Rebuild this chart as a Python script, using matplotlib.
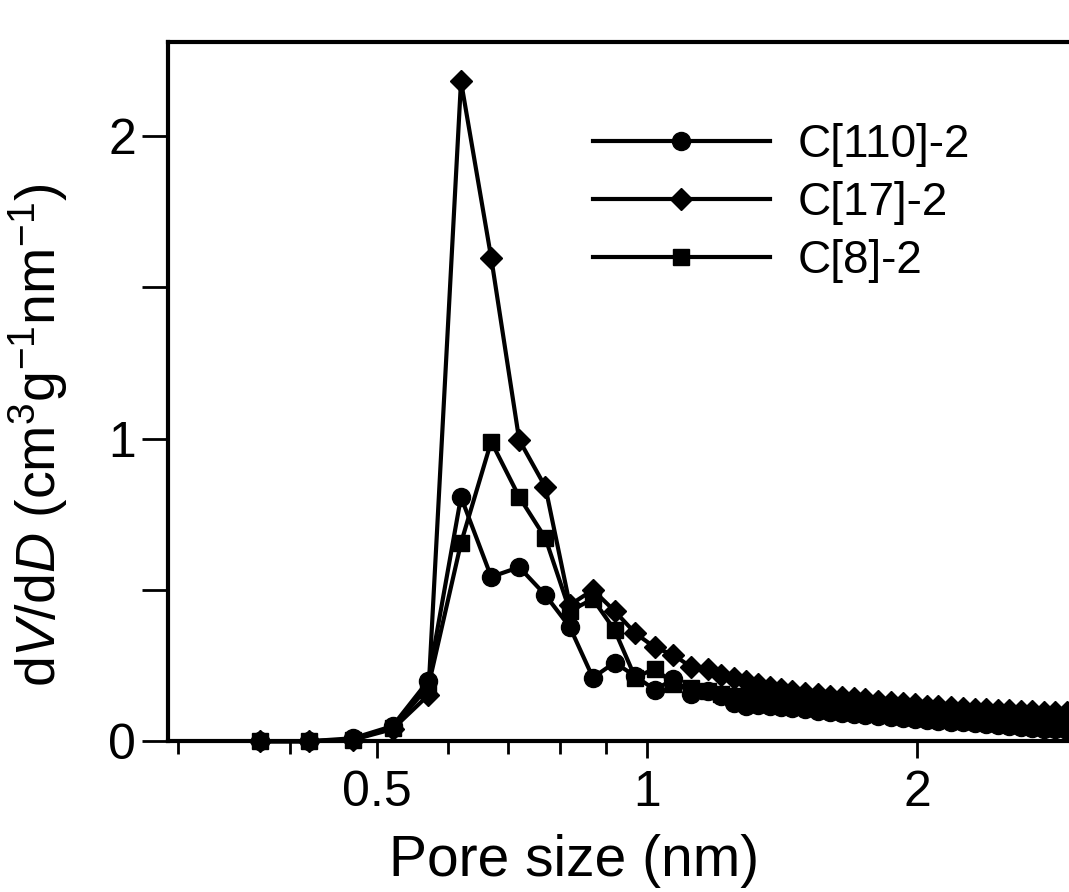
import matplotlib
matplotlib.use("Agg")
import matplotlib.pyplot as plt
from matplotlib.ticker import FixedLocator, FixedFormatter, NullFormatter

plt.rcParams['font.family'] = ['Liberation Sans', 'DejaVu Sans']
plt.rcParams['mathtext.fontset'] = 'custom'
plt.rcParams['mathtext.rm'] = 'Liberation Sans'
plt.rcParams['mathtext.it'] = 'Liberation Sans:italic'

# pore size grid (nm)
pore = [0.37, 0.42, 0.47, 0.52, 0.57, 0.62, 0.67, 0.72, 0.77, 0.82,
        0.87, 0.92, 0.97, 1.02, 1.07, 1.12, 1.17, 1.21, 1.25, 1.29,
        1.33, 1.37, 1.41, 1.45, 1.50, 1.55, 1.60, 1.65, 1.70, 1.75,
        1.81, 1.87, 1.93, 1.99, 2.05, 2.11, 2.18, 2.25, 2.32, 2.39,
        2.46, 2.53, 2.61, 2.69, 2.77, 2.85, 2.94, 3.03]

c110 = [0.0, 0.0, 0.01, 0.05, 0.20, 0.807, 0.543, 0.575, 0.483, 0.377,
        0.21, 0.26, 0.215, 0.17, 0.205, 0.155, 0.165, 0.15, 0.125, 0.118,
        0.12, 0.115, 0.112, 0.11, 0.105, 0.10, 0.097, 0.094, 0.09, 0.087,
        0.083, 0.08, 0.077, 0.074, 0.071, 0.068, 0.065, 0.062, 0.059, 0.056,
        0.053, 0.05, 0.048, 0.045, 0.042, 0.04, 0.037, 0.035]

c17 = [0.0, 0.0, 0.005, 0.04, 0.152, 2.18, 1.597, 0.995, 0.84, 0.45,
       0.50, 0.43, 0.357, 0.31, 0.285, 0.245, 0.24, 0.22, 0.21, 0.20,
       0.19, 0.18, 0.172, 0.165, 0.16, 0.155, 0.15, 0.146, 0.142, 0.138,
       0.134, 0.13, 0.126, 0.122, 0.118, 0.115, 0.112, 0.11, 0.108, 0.106,
       0.104, 0.102, 0.10, 0.099, 0.098, 0.097, 0.096, 0.095]

c8 = [0.0, 0.0, 0.005, 0.045, 0.18, 0.655, 0.99, 0.807, 0.671, 0.43,
      0.47, 0.367, 0.21, 0.24, 0.19, 0.175, 0.165, 0.155, 0.15, 0.145,
      0.14, 0.136, 0.132, 0.128, 0.124, 0.12, 0.117, 0.114, 0.111, 0.108,
      0.105, 0.102, 0.099, 0.096, 0.093, 0.09, 0.087, 0.084, 0.081, 0.078,
      0.075, 0.073, 0.071, 0.069, 0.067, 0.065, 0.063, 0.061]

labels = ['C[110]-2', 'C[17]-2', 'C[8]-2']

fig = plt.figure(figsize=(10.69, 8.92), dpi=100)
ax = fig.add_axes([0.157, 0.169, 0.8485, 0.784])

ax.plot(pore, c110, '-o', color='k', lw=3, ms=13, label=labels[0], clip_on=False)
ax.plot(pore, c17, '-D', color='k', lw=3, ms=11, label=labels[1], clip_on=False)
ax.plot(pore, c8, '-s', color='k', lw=3, ms=11.5, label=labels[2], clip_on=False)

ax.set_xscale('log')
ax.set_xlim(0.292, 3.0)
ax.set_ylim(0, 2.31)

ax.xaxis.set_major_locator(FixedLocator([0.5, 1, 2]))
ax.xaxis.set_major_formatter(FixedFormatter(['0.5', '1', '2']))
ax.xaxis.set_minor_locator(FixedLocator([0.3, 0.4, 0.6, 0.7, 0.8, 0.9]))
ax.xaxis.set_minor_formatter(NullFormatter())
ax.yaxis.set_major_locator(FixedLocator([0, 1, 2]))
ax.yaxis.set_minor_locator(FixedLocator([0.5, 1.5]))

for s in ax.spines.values():
    s.set_linewidth(3)

ax.tick_params(axis='x', which='major', direction='out', length=12, width=2,
               labelsize=36, pad=9, top=False)
ax.tick_params(axis='x', which='minor', direction='out', length=9, width=2, top=False)
ax.tick_params(axis='y', which='both', direction='out', length=19, width=2,
               labelsize=36, pad=4, right=False)

ax.set_xlabel('Pore size (nm)', fontsize=41)
ax.xaxis.set_label_coords(0.448, -0.133)
ax.set_ylabel(r'd$\it{V}$/d$\it{D}$ (cm$^{3}$g$^{-1}$nm$^{-1}$)', fontsize=40)
ax.yaxis.set_label_coords(-0.108, 0.438)

ax.legend(loc='upper left', bbox_to_anchor=(0.4686, 0.884), frameon=False,
          fontsize=33, handlelength=3.86, handletextpad=0.6, labelspacing=0.3,
          borderpad=0, borderaxespad=0)

fig.savefig('out.png', dpi=100)
